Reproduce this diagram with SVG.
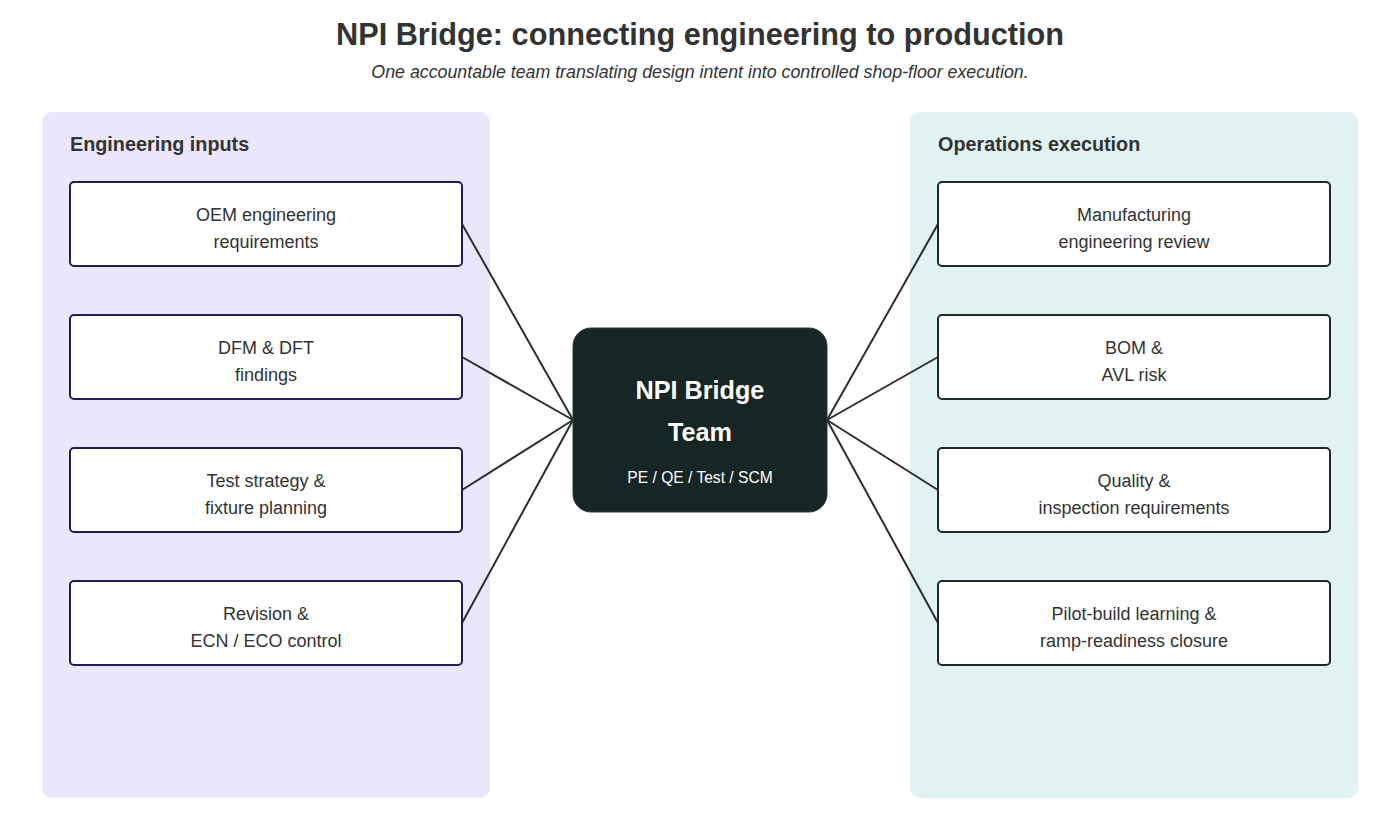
<svg xmlns="http://www.w3.org/2000/svg" width="1400" height="840" viewBox="0 0 1400 840">
<style>
text{font-family:"Liberation Sans",Arial,sans-serif;fill:#333333}
.title{font-size:30.7px;font-weight:bold;text-anchor:middle}
.sub{font-size:17.8px;font-style:italic;text-anchor:middle}
.ph{font-size:19.8px;font-weight:bold}
.nt{font-size:18px;text-anchor:middle}
.lnode{fill:#ffffff;stroke:#261a5c;stroke-width:2}
.rnode{fill:#ffffff;stroke:#1e2a28;stroke-width:2}
.conn line{stroke:#2d2d2d;stroke-width:2}
.ct{fill:#ffffff;text-anchor:middle}
</style>
<rect width="1400" height="840" fill="#ffffff"/>
<text class="title" x="700" y="45">NPI Bridge: connecting engineering to production</text>
<text class="sub" x="700" y="78">One accountable team translating design intent into controlled shop-floor execution.</text>
<g id="panel-left">
<rect x="42" y="112" width="448" height="686" rx="10" fill="#ebe6fb"/>
<text class="ph" x="70" y="151">Engineering inputs</text>
</g>
<g id="panel-right">
<rect x="910" y="112" width="448" height="686" rx="10" fill="#e0f2f1"/>
<text class="ph" x="938" y="151">Operations execution</text>
</g>
<g class="conn" id="connectors">
<line x1="462" y1="224" x2="573" y2="420"/>
<line x1="462" y1="357" x2="573" y2="420"/>
<line x1="462" y1="490" x2="573" y2="420"/>
<line x1="462" y1="623" x2="573" y2="420"/>
<line x1="938" y1="224" x2="827" y2="420"/>
<line x1="938" y1="357" x2="827" y2="420"/>
<line x1="938" y1="490" x2="827" y2="420"/>
<line x1="938" y1="623" x2="827" y2="420"/>
</g>
<g id="n-oem"><rect class="lnode" x="70" y="182" width="392" height="84" rx="4"/><text class="nt" x="266" y="221">OEM engineering</text><text class="nt" x="266" y="248">requirements</text></g>
<g id="n-dfm"><rect class="lnode" x="70" y="315" width="392" height="84" rx="4"/><text class="nt" x="266" y="354">DFM &amp; DFT</text><text class="nt" x="266" y="381">findings</text></g>
<g id="n-test"><rect class="lnode" x="70" y="448" width="392" height="84" rx="4"/><text class="nt" x="266" y="487">Test strategy &amp;</text><text class="nt" x="266" y="514">fixture planning</text></g>
<g id="n-rev"><rect class="lnode" x="70" y="581" width="392" height="84" rx="4"/><text class="nt" x="266" y="620">Revision &amp;</text><text class="nt" x="266" y="647">ECN / ECO control</text></g>
<g id="n-mfg"><rect class="rnode" x="938" y="182" width="392" height="84" rx="4"/><text class="nt" x="1134" y="221">Manufacturing</text><text class="nt" x="1134" y="248">engineering review</text></g>
<g id="n-bom"><rect class="rnode" x="938" y="315" width="392" height="84" rx="4"/><text class="nt" x="1134" y="354">BOM &amp;</text><text class="nt" x="1134" y="381">AVL risk</text></g>
<g id="n-qual"><rect class="rnode" x="938" y="448" width="392" height="84" rx="4"/><text class="nt" x="1134" y="487">Quality &amp;</text><text class="nt" x="1134" y="514">inspection requirements</text></g>
<g id="n-pilot"><rect class="rnode" x="938" y="581" width="392" height="84" rx="4"/><text class="nt" x="1134" y="620">Pilot-build learning &amp;</text><text class="nt" x="1134" y="647">ramp-readiness closure</text></g>
<g id="n-center">
<rect x="573" y="328" width="254" height="184" rx="18" fill="#172524" stroke="#2a3a38" stroke-width="1"/>
<text class="ct" x="700" y="399" font-size="25.2" font-weight="bold">NPI Bridge</text>
<text class="ct" x="700" y="441" font-size="25.2" font-weight="bold">Team</text>
<text class="ct" x="700" y="483" font-size="15.6">PE / QE / Test / SCM</text>
</g>
</svg>
